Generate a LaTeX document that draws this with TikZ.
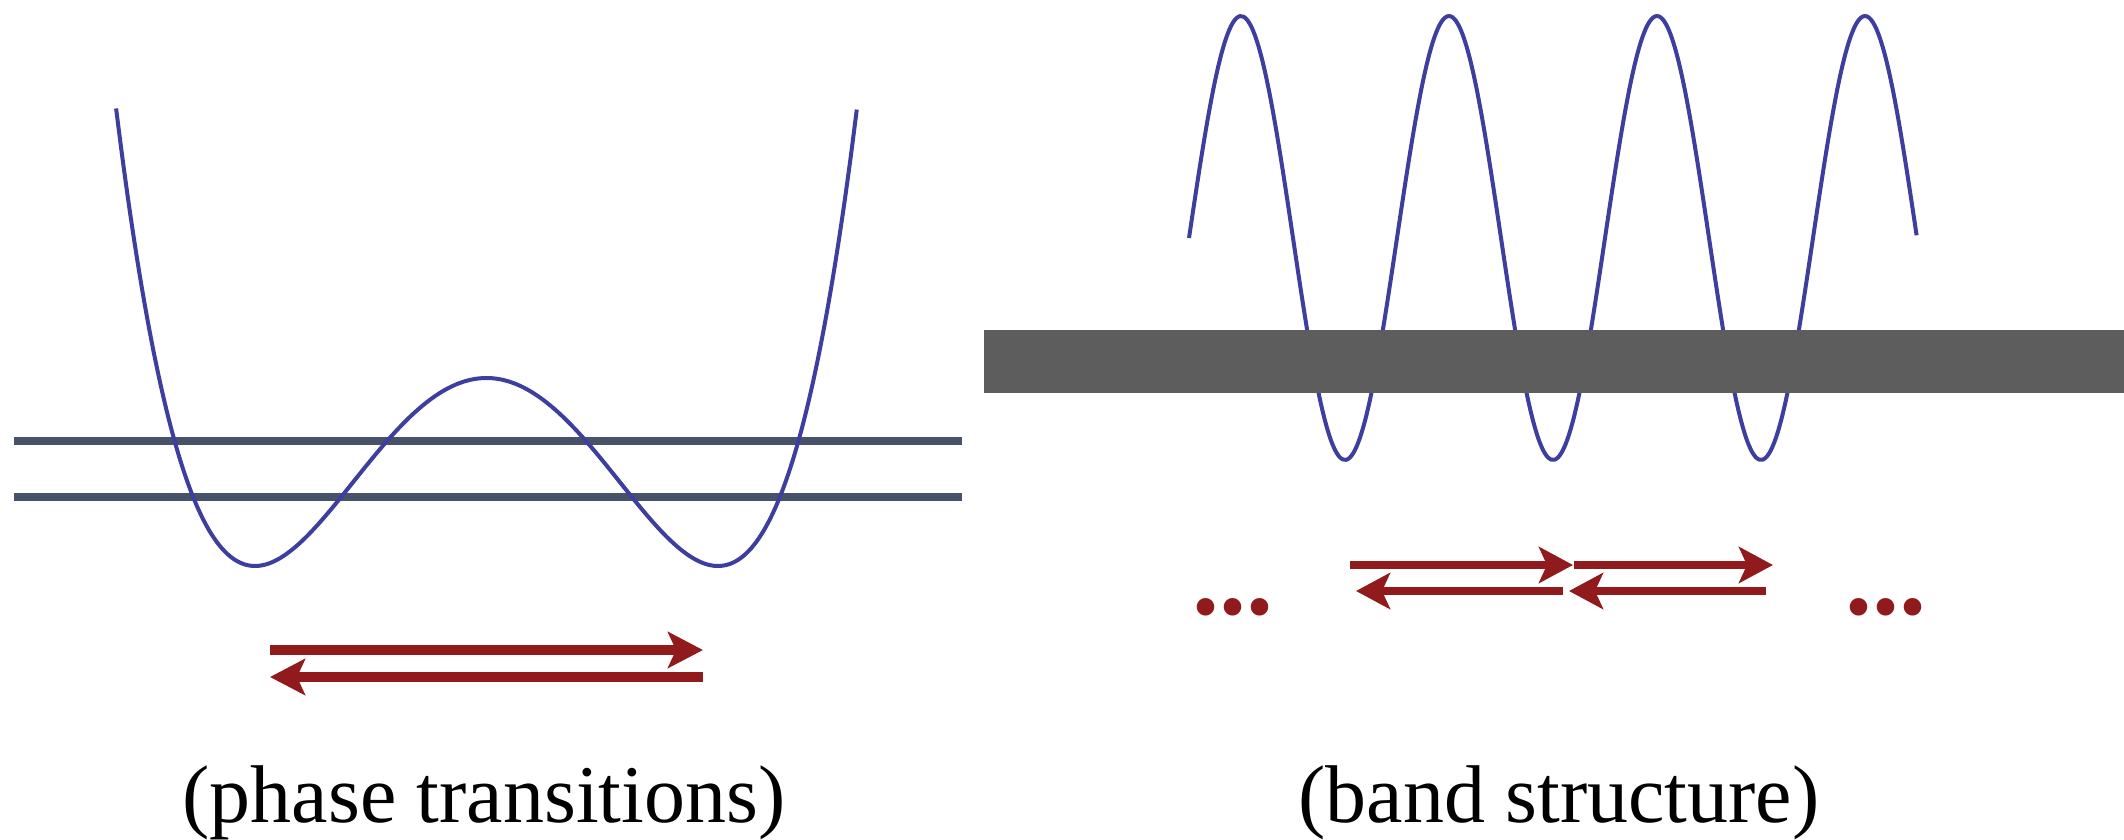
\documentclass[tikz,border=0pt]{standalone}
\usepackage{fontspec}
\setmainfont{Liberation Serif}
\usetikzlibrary{arrows.meta}
\definecolor{wellblue}{RGB}{62,62,158}
\definecolor{levelgray}{RGB}{70,82,104}
\definecolor{hopred}{RGB}{145,26,28}
\definecolor{bandgray}{RGB}{93,93,93}
\tikzset{
  curve/.style={wellblue,line width=0.04cm,line join=round},
  level/.style={levelgray,line width=0.08cm},
  bighop/.style={hopred,line width=0.105cm,-{Stealth[length=3.5mm,width=3.6mm,inset=0.8mm]}},
  smallhop/.style={hopred,line width=0.075cm,-{Stealth[length=3.4mm,width=3.6mm,inset=0.8mm]}},
  caption/.style={anchor=base,inner sep=0pt,font=\fontsize{23.3}{28}\selectfont},
  dotrow/.style={anchor=base,inner sep=0pt,text=hopred,font=\fontsize{30.7}{32}\selectfont\bfseries}
}
\begin{document}
\begin{tikzpicture}[x=1cm,y=1cm]
\useasboundingbox (0,0) rectangle (21.24,8.39);
% double well
\draw[level] (0.14,3.98) -- (9.62,3.98);
\draw[level] (0.14,3.42) -- (9.62,3.42);
\draw[curve] plot[domain=-1.6:1.6,samples=120,smooth] ({4.865+2.315*\x},{2.73+1.88*(\x*\x-1)^2});
\draw[bighop] (2.70,1.89) -- (7.03,1.89);
\draw[bighop] (7.03,1.62) -- (2.70,1.62);
\node[caption] (phase) at (4.84,0.17) {(phase transitions)};
% periodic potential
\draw[curve] plot[domain=0:3.5,samples=200,smooth] ({11.89+2.08*\x},{6.01+2.22*sin(360*\x)});
\fill[bandgray] (9.84,4.46) rectangle (21.24,5.09);
\foreach \a/\b in {13.50/15.73,15.74/17.73}
  \draw[smallhop] (\a,2.74) -- (\b,2.74);
\foreach \a/\b in {15.63/13.56,17.66/15.69}
  \draw[smallhop] (\a,2.48) -- (\b,2.48);
\node[dotrow] (dotsl) at (12.33,2.245) {...};
\node[dotrow] (dotsr) at (18.86,2.245) {...};
\node[caption] (band) at (15.59,0.17) {(band structure)};
\end{tikzpicture}
\end{document}
